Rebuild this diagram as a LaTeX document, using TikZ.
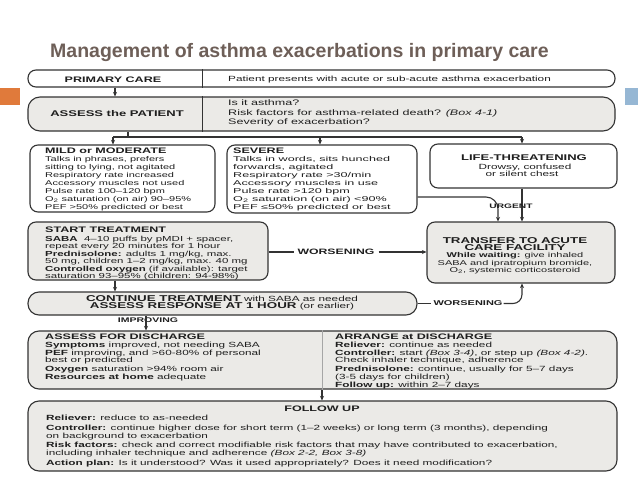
\documentclass[tikz,border=0pt]{standalone}
\usepackage{fontspec}
\setmainfont{Liberation Sans}[FakeStretch=1.57]
\newfontfamily\titlefont{Liberation Sans}
\newfontfamily\sevfont{Liberation Sans}[FakeStretch=1.8]
\usetikzlibrary{arrows.meta}
\definecolor{lc}{HTML}{333333}
\definecolor{boxfill}{HTML}{EBEAE7}
\definecolor{tc}{HTML}{1E1E1E}
\definecolor{titlec}{HTML}{6E5F58}
\definecolor{orangec}{HTML}{E07A3B}
\definecolor{bluec}{HTML}{96B7D4}
\newcommand{\fsz}{\fontsize{7}{8}\selectfont}
\newcommand{\hd}[1]{{\normalfont\fontsize{8}{8}\selectfont\bfseries #1}}
\begin{document}
\begin{tikzpicture}[x=1pt,y=-1pt,
  box/.style={draw=lc, line width=1.1pt, rounded corners=8pt, inner sep=0pt},
  gbox/.style={box, fill=boxfill},
  wbox/.style={box, fill=white},
  txt/.style={inner sep=0pt, align=left, text=tc, font=\fsz},
  ctxt/.style={inner sep=0pt, align=center, text=tc, font=\fsz},
  arr/.style={draw=lc, line width=1.1pt, -{Stealth[length=4.5pt,width=4pt]}},
  ln/.style={draw=lc, line width=1.1pt},
  lbl/.style={inner sep=0pt, text=tc, font=\fontsize{8}{8}\selectfont\bfseries}
]
\useasboundingbox (0,0) rectangle (638,479);
\fill[white] (0,0) rectangle (638,479);

% title and slide decorations
\node[inner sep=0pt, anchor=base west, text=titlec, font=\titlefont\bfseries\fontsize{19.5}{24}\selectfont] (title) at (50,57) {Management of asthma exacerbations in primary care};
\node[fill=orangec, inner sep=0pt, minimum width=20pt, minimum height=17pt, anchor=north west] (orange) at (0,88) {};
\node[fill=bluec, inner sep=0pt, minimum width=13pt, minimum height=17pt, anchor=north west] (blue) at (625,88) {};

% boxes
\node[wbox, minimum width=587pt, minimum height=17pt] (primary) at (321.5,78.5) {};
\node[gbox, rounded corners=12pt, minimum width=587pt, minimum height=34pt] (assess) at (321.5,114) {};
\node[wbox, minimum width=185pt, minimum height=67pt] (mild) at (122.5,178.5) {};
\node[wbox, minimum width=190pt, minimum height=68pt] (severe) at (322,179) {};
\node[wbox, minimum width=187pt, minimum height=44pt] (life) at (523.5,166) {};
\node[gbox, minimum width=240pt, minimum height=58pt] (start) at (148,251) {};
\node[gbox, minimum width=188pt, minimum height=61pt] (transfer) at (521,252.5) {};
\node[gbox, rounded corners=11pt, minimum width=389pt, minimum height=23pt] (cont) at (222.5,303.5) {};
\node[gbox, rounded corners=11pt, minimum width=589pt, minimum height=58pt] (discharge) at (322.5,360) {};
\node[gbox, rounded corners=11pt, minimum width=589pt, minimum height=70pt] (follow) at (322.5,436) {};

% dividers
\coordinate (dv1) at (202,0);
\coordinate (dv2) at (322,0);
\draw[ln, line width=0.6pt] (primary.north -| dv1) -- (primary.south -| dv1);
\draw[ln, line width=0.6pt] (assess.north -| dv1) -- (assess.south -| dv1);
\draw[draw=gray!70, line width=0.6pt] (discharge.north -| dv2) -- (discharge.south -| dv2);

% texts
\node[lbl, anchor=base] (pctxt) at (113,82) {PRIMARY CARE};
\node[txt, anchor=base west, font=\fontsize{7.5}{8}\selectfont] (pcright) at (228,81.5) {Patient presents with acute or sub-acute asthma exacerbation};
\node[lbl, anchor=base, font=\fontsize{8.3}{8}\selectfont\bfseries] (astxt) at (117,116) {ASSESS the PATIENT};
\node[txt, anchor=north west, font=\fontsize{8}{9.5}\selectfont] (asright) at (228,99.7) {Is it asthma?\\Risk factors for asthma-related death? \textit{(Box 4-1)}\\Severity of exacerbation?};

\node[txt, anchor=north west] (mildtxt) at (45,147.7) {\hd{MILD or MODERATE}\\Talks in phrases, prefers\\sitting to lying, not agitated\\Respiratory rate increased\\Accessory muscles not used\\Pulse rate 100–120 bpm\\O\textsubscript{2} saturation (on air) 90–95\%\\PEF >50\% predicted or best};
\node[txt, anchor=north west, font=\sevfont\fsz] (sevtxt) at (233,147.7) {\hd{SEVERE}\\Talks in words, sits hunched\\forwards, agitated\\Respiratory rate >30/min\\Accessory muscles in use\\Pulse rate >120 bpm\\O\textsubscript{2} saturation (on air) <90\%\\PEF ≤50\% predicted or best};
\node[lbl, anchor=base, font=\fontsize{8.3}{8}\selectfont\bfseries] (lifehead) at (524,160.5) {LIFE-THREATENING};
\node[txt, anchor=base, font=\fontsize{7.5}{8}\selectfont] (life1) at (525,169.5) {Drowsy, confused};
\node[txt, anchor=base, font=\fontsize{7.5}{8}\selectfont] (life2) at (522,176) {or silent chest};

\node[txt, anchor=north west, font=\fontsize{7.3}{7.1}\selectfont] (starttxt) at (45,226.7) {\hd{START TREATMENT}\\[1.9pt]\textbf{SABA}\ \ 4–10 puffs by pMDI + spacer,\\repeat every 20 minutes for 1 hour\\[0.7pt]\textbf{Prednisolone:} adults 1 mg/kg, max.\\50 mg, children 1–2 mg/kg, max. 40 mg\\[0.5pt]\textbf{Controlled oxygen} (if available): target\\saturation 93–95\% (children: 94-98\%)};
\node[ctxt, anchor=north, font=\fontsize{7}{7.2}\selectfont] (transtxt) at (515,237.4) {{\fontsize{8.5}{7}\selectfont\bfseries TRANSFER TO ACUTE}\\{\fontsize{8.5}{7}\selectfont\bfseries CARE FACILITY}\\\textbf{While waiting:} give inhaled\\SABA and ipratropium bromide,\\O\textsubscript{2}, systemic corticosteroid};

\node[ctxt, anchor=north, font=\fontsize{7.5}{7.5}\selectfont] (conttxt) at (222,294.9) {{\fontsize{8.5}{7.5}\selectfont\bfseries CONTINUE TREATMENT} with SABA as needed\\{\fontsize{8.5}{7.5}\selectfont\bfseries ASSESS RESPONSE AT 1 HOUR} (or earlier)};

\node[txt, anchor=north west, font=\fontsize{7.5}{7.5}\selectfont] (dltxt) at (45,333.7) {\hd{ASSESS FOR DISCHARGE}\\[0.5pt]\textbf{Symptoms} improved, not needing SABA\\[0.5pt]\textbf{PEF} improving, and >60-80\% of personal\\best or predicted\\[1.5pt]\textbf{Oxygen} saturation >94\% room air\\[0.5pt]\textbf{Resources at home} adequate};
\node[txt, anchor=north west, font=\fontsize{7.5}{7.5}\selectfont] (drtxt) at (335,333.7) {\hd{ARRANGE at DISCHARGE}\\[0.5pt]\textbf{Reliever:} continue as needed\\[0.5pt]\textbf{Controller:} start \textit{(Box 3-4)}, or step up \textit{(Box 4-2)}.\\Check inhaler technique, adherence\\[1.5pt]\textbf{Prednisolone:} continue, usually for 5–7 days\\(3-5 days for children)\\[0.5pt]\textbf{Follow up:} within 2–7 days};

\node[lbl, anchor=base] (fuhead) at (322,411) {FOLLOW UP};
\node[txt, anchor=north west, font=\fontsize{7.5}{8}\selectfont] (futxt) at (46,415.2) {\textbf{Reliever:} reduce to as-needed\\[2pt]\textbf{Controller:} continue higher dose for short term (1–2 weeks) or long term (3 months), depending\\on background to exacerbation\\[1pt]\textbf{Risk factors:} check and correct modifiable risk factors that may have contributed to exacerbation,\\including inhaler technique and adherence \textit{(Box 2-2, Box 3-8)}\\[2pt]\textbf{Action plan:} Is it understood? Was it used appropriately? Does it need modification?};

% connector coordinates
\coordinate (xa) at (115,0);
\coordinate (xs) at (128,0);
\coordinate (xm) at (113,0);
\coordinate (xv) at (320,0);
\coordinate (xl) at (522,0);
\coordinate (xu) at (498,0);
\coordinate (hy) at (0,137);
\coordinate (sy) at (0,197);
\coordinate (wy1) at (0,252);
\coordinate (wy2) at (0,303.5);
\coordinate (xi) at (146,0);

% connectors
\draw[arr] (primary.south -| xa) -- (assess.north -| xa);
\draw[ln] (assess.south -| xs) -- (hy -| xs);
\draw[ln] (hy -| xm) -- (hy -| xl);
\draw[arr] (hy -| xm) -- (mild.north -| xm);
\draw[arr] (hy -| xv) -- (severe.north -| xv);
\draw[arr] (hy -| xl) -- (life.north -| xl);
\draw[arr, rounded corners=12pt] (severe.east |- sy) -| (transfer.north -| xu);
\draw[arr] (life.south -| xl) -- (transfer.north -| xl);
\node[lbl, font=\fontsize{6.5}{7}\selectfont\bfseries] (urgent) at (511,206) {URGENT};

\node[lbl, font=\fontsize{7.8}{8}\selectfont\bfseries] (w1) at (336,252) {WORSENING};
\draw[ln] (start.east |- wy1) -- ([xshift=-3pt]w1.west);
\draw[arr] ([xshift=4pt]w1.east) -- (transfer.west |- wy1);

\draw[arr] (start.south -| xa) -- (cont.north -| xa);

\node[lbl, font=\fontsize{7}{8}\selectfont\bfseries] (w2) at (468,303) {WORSENING};
\draw[ln] (cont.east |- wy2) -- ([xshift=-2pt]w2.west |- wy2);
\draw[arr, rounded corners=9pt] ([xshift=1pt]w2.east |- wy2) -| (transfer.south -| xl);

\node[lbl, font=\fontsize{6.7}{7}\selectfont\bfseries] (improving) at (148,320) {IMPROVING};
\draw[arr] (cont.south -| xi) -- (discharge.north -| xi);

\draw[arr] (discharge.south -| dv2) -- (follow.north -| dv2);
\end{tikzpicture}
\end{document}
